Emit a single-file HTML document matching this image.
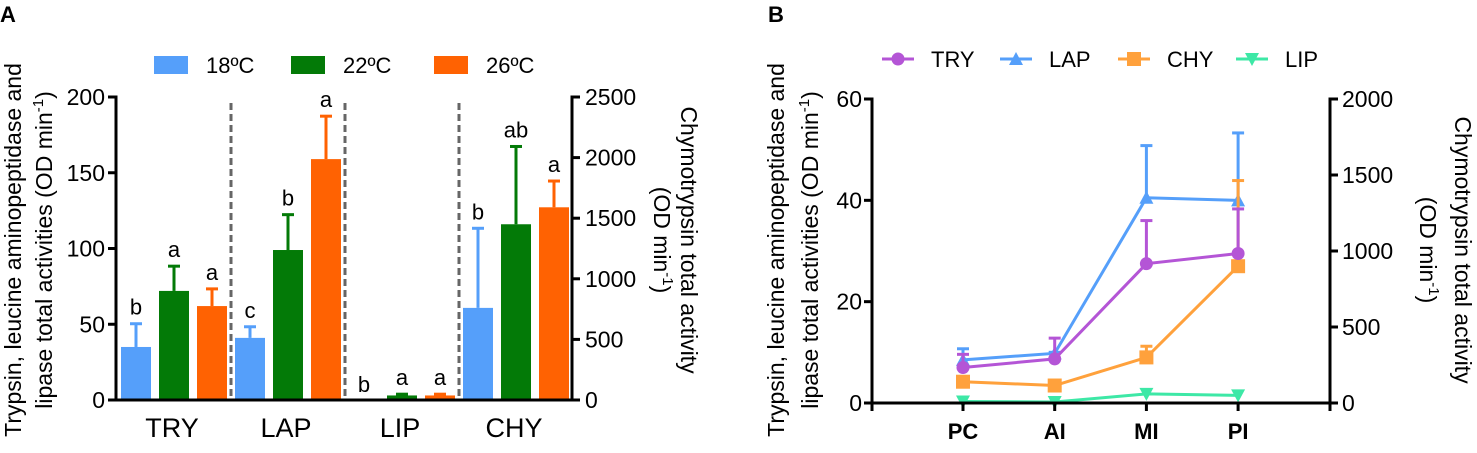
<!DOCTYPE html>
<html><head><meta charset="utf-8"><style>
body{margin:0;background:#fff;}
svg{display:block;font-family:"Liberation Sans",Arial,sans-serif;}
</style></head><body>
<svg id="fig" width="1477" height="453" viewBox="0 0 1477 453" xmlns="http://www.w3.org/2000/svg">
<text x="0" y="22" font-size="22" font-weight="bold">A</text>
<text x="768" y="22" font-size="22" font-weight="bold">B</text>
<g id="pa"></g>
<g id="pb"></g>
</svg>
<script>
// Panel A data
const aCategories = ["TRY","LAP","LIP","CHY"];
const aSeries = ["18ºC","22ºC","26ºC"];
const aValues18 = [35, 41, 0, 760];
const aValues22 = [72, 99, 3, 1450];
const aValues26 = [62, 159, 3, 1590];
const aErr18 = [51, 49, 0, 1425];
const aErr22 = [89, 123, 4.5, 2100];
const aErr26 = [74, 188, 4.5, 1815];
const aLetters18 = ["b","c","b","b"];
const aLetters22 = ["a","b","a","ab"];
const aLetters26 = ["a","a","a","a"];
const aLeftTicks = [0,50,100,150,200];
const aRightTicks = [0,500,1000,1500,2000,2500];
// Panel B data
const bCategories = ["PC","AI","MI","PI"];
const bTRY = [7, 8.7, 27.5, 29.5];
const bTRYerr = [9.8, 13, 36.2, 38.5];
const bLAP = [8.5, 9.8, 40.5, 40];
const bLAPerr = [10.9, 10.2, 51, 53.5];
const bCHY = [140, 115, 300, 900];
const bCHYerr = [170, 130, 380, 1470];
const bLIP = [0.3, 0.2, 1.8, 1.5];
const bLeftTicks = [0,20,40,60];
const bRightTicks = [0,500,1000,1500,2000];

const NS="http://www.w3.org/2000/svg";
function mk(parent,tag,attrs,text){const e=document.createElementNS(NS,tag);for(const k in attrs)e.setAttribute(k,attrs[k]);if(text!==undefined)e.textContent=text;parent.appendChild(e);return e;}
function title(parent,x,y,rot,txt,name){
 const t=mk(parent,'text',{transform:`translate(${x},${y}) rotate(${rot})`,'font-size':23,'text-anchor':'middle'});
 
 
 t.appendChild(document.createTextNode(txt));
 mk(t,'tspan',{'font-size':15,dy:-9},'-1');
 mk(t,'tspan',{dy:9},')');
 return t;
}

// ---------- Panel A ----------
const pa=document.getElementById('pa');
const aX0=116,aX1=572,aY0=400,aY1=97;
const ayL=v=>aY0-(v/200)*(aY0-aY1);
const ayR=v=>aY0-(v/2500)*(aY0-aY1);
const aGroupCenter=i=>174+i*114;
const colors=["#559ffa","#037a07","#ff6202"];
const vals=[aValues18,aValues22,aValues26], errs=[aErr18,aErr22,aErr26], lets=[aLetters18,aLetters22,aLetters26];
[0,1,2].forEach(i=>{const x=(aGroupCenter(i)+aGroupCenter(i+1))/2;
 const l=mk(pa,'line',{x1:x,y1:103,x2:x,y2:aY0,stroke:'#666','stroke-width':3,'stroke-dasharray':'7,4'});
 
 });
aCategories.forEach((c,i)=>{
 for(let s=0;s<3;s++){
  const yf=i===3?ayR:ayL;
  const cx=aGroupCenter(i)+(s-1)*38;
  const v=vals[s][i],e=errs[s][i];
  const top=yf(v);
  if(e>v){const el=mk(pa,'line',{x1:cx,y1:yf(e),x2:cx,y2:top,stroke:colors[s],'stroke-width':3});
   
   
   const cap=mk(pa,'line',{x1:cx-6,y1:yf(e)+1,x2:cx+6,y2:yf(e)+1,stroke:colors[s],'stroke-width':3});
   
   }
  if(v>0){const r=mk(pa,'rect',{x:cx-15,y:top,width:30,height:aY0-top,fill:colors[s]});
   
   }
  const t=mk(pa,'text',{x:cx,y:Math.min(yf(e),top)-8,'font-size':22,'text-anchor':'middle'},lets[s][i]);
  
  
 }
 const lb=mk(pa,'text',{x:aGroupCenter(i)-2,y:437,'font-size':27,'text-anchor':'middle'},c);
 
 
});
mk(pa,'path',{d:`M${aX0-8},${aY1}H${aX0}V${aY0}H${aX1}V${aY1}H${aX1+8}`,fill:'none',stroke:'#000','stroke-width':3,});
aLeftTicks.forEach(v=>{const y=ayL(v);mk(pa,'line',{x1:aX0-8,y1:y,x2:aX0,y2:y,stroke:'#000','stroke-width':3});
 const t=mk(pa,'text',{x:aX0-11,y:y+8,'font-size':23,'text-anchor':'end'},v);
 
 });
aRightTicks.forEach(v=>{const y=ayR(v);mk(pa,'line',{x1:aX1,y1:y,x2:aX1+8,y2:y,stroke:'#000','stroke-width':3});
 const t=mk(pa,'text',{x:aX1+13,y:y+8,'font-size':23},v);
 
 });
const legX=[154,291,434];
aSeries.forEach((s,i)=>{const r=mk(pa,'rect',{x:legX[i],y:56,width:34,height:18,fill:colors[i]});
 
 
 const t=mk(pa,'text',{x:legX[i]+52,y:73,'font-size':22},s);
 
 });
const tl=mk(pa,'text',{transform:'translate(21,250) rotate(-90)','font-size':23,'text-anchor':'middle',},'Trypsin, leucine aminopeptidase and');
title(pa,52,250,-90,'lipase total activities (OD min','left-y-axis-title-line2');
mk(pa,'text',{transform:'translate(681,240) rotate(90)','font-size':23,'text-anchor':'middle',},'Chymotrypsin total activity');
title(pa,654,240,90,'(OD min','right-y-axis-title-line2');

// ---------- Panel B ----------
const pb=document.getElementById('pb');
const bX0=872,bX1=1330,bY0=403,bY1=99;
const byL=v=>bY0-(v/60)*(bY0-bY1);
const byR=v=>bY0-(v/2000)*(bY0-bY1);
const bx=i=>963+i*91.7;
function marker(g,type,x,y,col){
 if(type==='circle')return mk(g,'circle',{cx:x,cy:y,r:6.5,fill:col});
 if(type==='up')return mk(g,'path',{d:`M${x},${y-7}L${x+7},${y+6}L${x-7},${y+6}Z`,fill:col});
 if(type==='sq')return mk(g,'rect',{x:x-7,y:y-7,width:14,height:14,fill:col});
 return mk(g,'path',{d:`M${x},${y+7}L${x+7},${y-6}L${x-7},${y-6}Z`,fill:col});
}
const bSeries=[
 {name:'TRY',v:bTRY,e:bTRYerr,f:byL,col:'#b455d6',m:'circle'},
 {name:'LAP',v:bLAP,e:bLAPerr,f:byL,col:'#559ffa',m:'up'},
 {name:'CHY',v:bCHY,e:bCHYerr,f:byR,col:'#ffa13c',m:'sq'},
 {name:'LIP',v:bLIP,e:null,f:byL,col:'#3de8a6',m:'down'}];
[1,3,2,0].forEach(k=>{const s=bSeries[k];
 const g=mk(pb,'g',{});
 
 
 if(s.e)s.e.forEach((e,i)=>{const x=bx(i);
  mk(g,'line',{x1:x,y1:s.f(e),x2:x,y2:s.f(s.v[i]),stroke:s.col,'stroke-width':3});
  mk(g,'line',{x1:x-6,y1:s.f(e)+1,x2:x+6,y2:s.f(e)+1,stroke:s.col,'stroke-width':3});});
 mk(g,'polyline',{points:s.v.map((v,i)=>bx(i)+','+s.f(v)).join(' '),fill:'none',stroke:s.col,'stroke-width':3});
 s.v.forEach((v,i)=>{const m=marker(g,s.m,bx(i),s.f(v),s.col);
  
  });
});
mk(pb,'path',{d:`M${bX0-8},${bY1}H${bX0}V${bY0}H${bX1}V${bY1}H${bX1+8}`,fill:'none',stroke:'#000','stroke-width':3,});
mk(pb,'line',{x1:bX0,y1:bY0,x2:bX0,y2:bY0+8,stroke:'#000','stroke-width':3});
mk(pb,'line',{x1:bX1,y1:bY0,x2:bX1,y2:bY0+8,stroke:'#000','stroke-width':3});
bCategories.forEach((c,i)=>{mk(pb,'line',{x1:bx(i),y1:bY0,x2:bx(i),y2:bY0+8,stroke:'#000','stroke-width':3});
 const t=mk(pb,'text',{x:bx(i),y:439,'font-size':22,'font-weight':'bold','text-anchor':'middle'},c);
 
 });
bLeftTicks.forEach(v=>{const y=byL(v);mk(pb,'line',{x1:bX0-8,y1:y,x2:bX0,y2:y,stroke:'#000','stroke-width':3});
 const t=mk(pb,'text',{x:bX0-10,y:y+8,'font-size':23,'text-anchor':'end'},v);
 
 });
bRightTicks.forEach(v=>{const y=byR(v);mk(pb,'line',{x1:bX1,y1:y,x2:bX1+8,y2:y,stroke:'#000','stroke-width':3});
 const t=mk(pb,'text',{x:bX1+12,y:y+8,'font-size':23},v);
 
 });
const bLegM=[898,1016,1134,1252];
bSeries.forEach((s,i)=>{const x=bLegM[i];
 const g=mk(pb,'g',{});
 
 
 mk(g,'line',{x1:x-16,y1:59,x2:x+16,y2:59,stroke:s.col,'stroke-width':3});
 marker(g,s.m,x,59,s.col);
 mk(g,'text',{x:x+33,y:67,'font-size':22},s.name);});
mk(pb,'text',{transform:'translate(784,250) rotate(-90)','font-size':23,'text-anchor':'middle',},'Trypsin, leucine aminopeptidase and');
title(pb,818,250,-90,'lipase total activities (OD min','left-y-axis-title-line2');
mk(pb,'text',{transform:'translate(1455,250) rotate(90)','font-size':23,'text-anchor':'middle',},'Chymotrypsin total activity');
title(pb,1420,250,90,'(OD min','right-y-axis-title-line2');
</script>
</body></html>
